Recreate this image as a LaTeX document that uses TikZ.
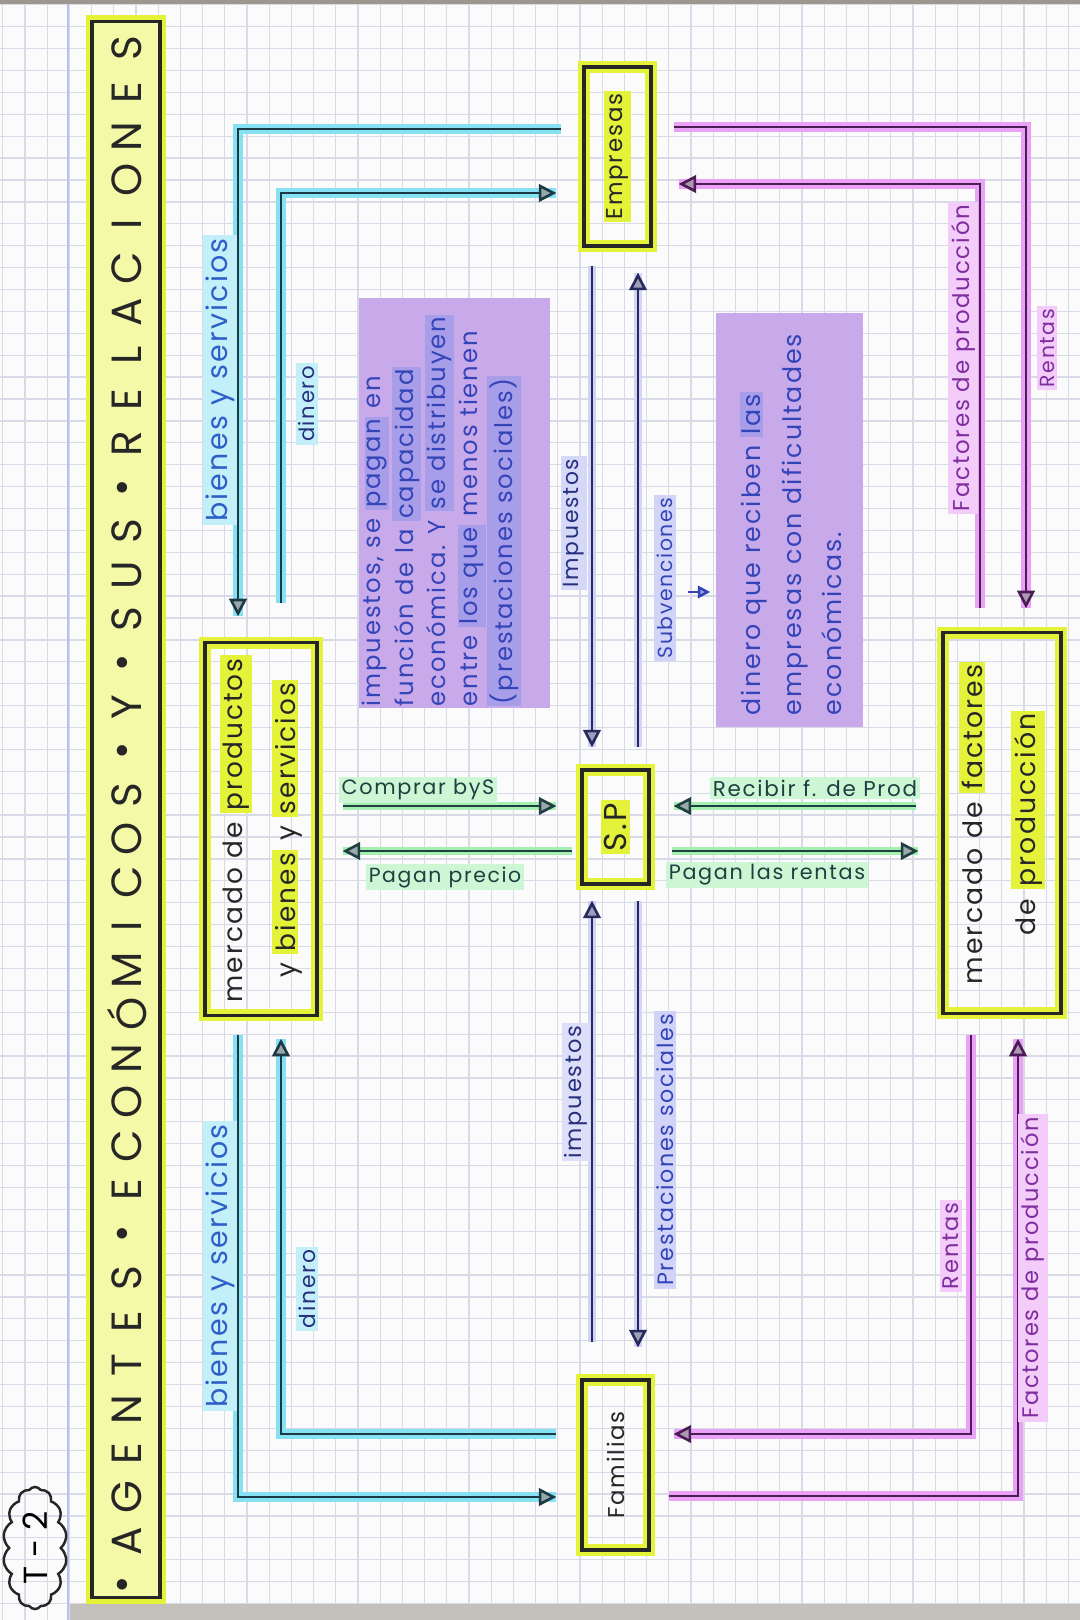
\documentclass[tikz,border=0pt]{standalone}
\usepackage{fontspec}
\setmainfont{Poppins}[LetterSpace=8.0]
\newfontfamily\titlefont{Poppins}
\usepackage{graphicx}
\usetikzlibrary{arrows.meta,shapes.symbols}

\definecolor{paper}{HTML}{FBFBFC}
\definecolor{gridcol}{HTML}{D9DAE7}
\definecolor{marginblue}{HTML}{B9C1EA}
\definecolor{edgegray}{HTML}{9C968F}
\definecolor{hlyellow}{HTML}{E4F23A}
\definecolor{hlcyan}{HTML}{86E2F2}
\definecolor{hlpink}{HTML}{E9A2F5}
\definecolor{hlgreen}{HTML}{A4F0B0}
\definecolor{hlblue}{HTML}{B4B8F2}
\definecolor{notefill}{HTML}{C8A9E9}
\definecolor{notehl}{HTML}{A79DE8}
\definecolor{tealline}{HTML}{1C3A45}
\definecolor{purpline}{HTML}{4B1C55}
\definecolor{navyline}{HTML}{262B5E}
\definecolor{inkcyan}{HTML}{2E5FC9}
\definecolor{inknavy}{HTML}{26307E}
\definecolor{inkblue}{HTML}{3344B8}
\definecolor{inkpurple}{HTML}{7E2C9E}
\definecolor{inkteal}{HTML}{1F3F42}

\newcommand\hly[1]{{\fboxsep=0.8pt\colorbox{hlyellow}{#1}}}
\newcommand\hln[1]{{\fboxsep=0.6pt\colorbox{notehl}{#1}}}

\begin{document}
\begin{tikzpicture}[x=0.01cm, y=-0.01cm,
    box node/.style = {draw=black!85, line width=0.9pt, preaction={draw=hlyellow, line width=3.5pt}, rectangle, inner sep=0pt, text=black!85},
    note node/.style = {fill=notefill, rectangle, inner sep=0pt},
    note text/.style = {text=inkblue, inner sep=0pt, anchor=south},
    label node/.style = {inner sep=0.8pt},
    title letter/.style = {inner sep=0pt, text=black!85, font=\titlefont\fontsize{12}{12}\selectfont},
    grid line/.style = {draw=gridcol, line width=0.35pt},
    teal arrow/.style = {draw=tealline, line width=0.75pt, preaction={draw=hlcyan, line width=2.6pt, -}, -{Triangle[length=5pt, width=5pt, fill=tealline!45]}},
    navy arrow/.style = {draw=navyline, line width=0.75pt, preaction={draw=hlblue!60, line width=2pt, -}, -{Triangle[length=5pt, width=5pt, fill=navyline!45]}},
    green arrow/.style = {draw=inkteal, line width=0.75pt, preaction={draw=hlgreen, line width=2.4pt, -}, -{Triangle[length=5pt, width=5pt, fill=inkteal!45]}},
    purple arrow/.style = {draw=purpline, line width=0.75pt, preaction={draw=hlpink, line width=2.6pt, -}, -{Triangle[length=5pt, width=5pt, fill=purpline!45]}}]
  \useasboundingbox (0,0) rectangle (1080,1620);
  \fill[paper] (0,0) rectangle (1080,1620);
  % cuadricula del cuaderno
  \foreach \gx in {2.8,25,...,1080}
    \draw[grid line] (\gx,0) -- (\gx,1620);
  \foreach \gy in {4.8,26.7,...,1620}
    \draw[grid line] (0,\gy) -- (1080,\gy);
  \draw[marginblue, line width=0.6pt] (68,0) -- (68,1620);
  \fill[edgegray] (0,0) rectangle (1080,4);
  \fill[edgegray!60] (70,1604) rectangle (1080,1620);

  % titulo
  \node at (126,809.5) [box node, fill=hlyellow!45, minimum width=0.68cm, minimum height=15.75cm] (titulo) {};
  \foreach \letra [count=\i] in {\textbullet,A,G,E,N,T,E,S,\textbullet,E,C,O,N,Ó,M,I,C,O,S,\textbullet,Y,\textbullet,S,U,S,\textbullet,R,E,L,A,C,I,O,N,E,S}
    \node at (127,{1585-43.9*(\i-1)}) [title letter] (letra\i) {\rotatebox{90}{\letra}};
  \node at (35,1548) [cloud, draw=black!85, line width=0.7pt, cloud puffs=14, cloud puff arc=110, cloud ignores aspect, minimum width=0.64cm, minimum height=1.22cm, inner sep=0pt, font=\titlefont\fontsize{9.5}{10}\selectfont] (tema) {\rotatebox{90}{T - 2}};

  % agentes y mercados
  \node at (617.5,156.5) [box node, minimum width=0.67cm, minimum height=1.79cm, font=\fontsize{6.5}{8}\selectfont] (empresas) {\rotatebox{90}{\hly{Empresas}}};
  \node at (615.5,827) [box node, minimum width=0.67cm, minimum height=1.14cm, font=\fontsize{9}{10}\selectfont] (sp) {\rotatebox{90}{\hly{S.P}}};
  \node at (615.5,1465) [box node, minimum width=0.67cm, minimum height=1.70cm, font=\fontsize{6.5}{8}\selectfont] (familias) {\rotatebox{90}{Familias}};
  \node at (261,829) [box node, minimum width=1.12cm, minimum height=3.72cm, font=\fontsize{7.5}{15}\selectfont] (mprod) {\rotatebox{90}{\parbox{3.5cm}{\centering mercado de \hly{productos}\\ y \hly{bienes} y \hly{servicios}}}};
  \node at (1002,823) [box node, minimum width=1.18cm, minimum height=3.80cm, font=\fontsize{7.6}{15}\selectfont] (mfact) {\rotatebox{90}{\parbox{3.6cm}{\centering mercado de \hly{factores}\\ de \hly{producción}}}};

  % notas
  \node at (454.5,503) [note node, minimum width=1.91cm, minimum height=4.10cm] (nota1) {};
  \node at (440,707) [note text, font=\fontsize{6.9}{9.2}\selectfont] (nota1txt) {\rotatebox{90}{\begin{tabular}{@{}l@{}}impuestos, se \hln{pagan} en\\ función de la \hln{capacidad}\\ económica. Y \hln{se distribuyen}\\ entre \hln{los que} menos tienen\\ \hln{(prestaciones sociales)}\end{tabular}}};
  \node at (789.5,520) [note node, minimum width=1.47cm, minimum height=4.14cm] (nota2) {};
  \node at (793,716) [note text, font=\fontsize{7.2}{11.6}\selectfont] (nota2txt) {\rotatebox{90}{\begin{tabular}{@{}l@{}}dinero que reciben \hln{las}\\ empresas con dificultades\\ económicas.\end{tabular}}};

  % flujos con el mercado de productos
  \coordinate (bs1) at (238,129);
  \coordinate (din1) at (281,193);
  \coordinate (bs2) at (238,1497);
  \coordinate (din2) at (281,1434);
  \draw [teal arrow, shorten <=0.21cm, shorten >=0.25cm] (empresas.west |- bs1) -| (mprod.north -| bs1);
  \draw [teal arrow, shorten <=0.38cm, shorten >=0.26cm] (mprod.north -| din1) |- (empresas.west |- din1);
  \draw [teal arrow, shorten <=0.18cm, shorten >=0.24cm] (mprod.south -| bs2) |- (familias.west |- bs2);
  \draw [teal arrow, shorten <=0.24cm, shorten >=0.22cm] (familias.west |- din2) -| (mprod.south -| din2);

  % flujos con el sector publico
  \coordinate (colImp) at (592,827);
  \coordinate (colSub) at (638,827);
  \coordinate (filaA) at (615,806);
  \coordinate (filaB) at (615,851);
  \draw [navy arrow, shorten <=0.18cm, shorten >=0.21cm] (empresas.south -| colImp) -- (sp.north -| colImp);
  \draw [navy arrow, shorten <=0.21cm, shorten >=0.25cm] (sp.north -| colSub) -- (empresas.south -| colSub);
  \draw [navy arrow, shorten <=0.36cm, shorten >=0.15cm] (familias.north -| colImp) -- (sp.south -| colImp);
  \draw [navy arrow, shorten <=0.15cm, shorten >=0.31cm] (sp.south -| colSub) -- (familias.north -| colSub);
  \draw [green arrow, shorten <=0.24cm, shorten >=0.24cm] (mprod.east |- filaA) -- (sp.west |- filaA);
  \draw [green arrow, shorten <=0.08cm, shorten >=0.24cm] (sp.west |- filaB) -- (mprod.east |- filaB);
  \draw [green arrow, shorten <=0.25cm, shorten >=0.23cm] (mfact.west |- filaA) -- (sp.east |- filaA);
  \draw [green arrow, shorten <=0.21cm, shorten >=0.23cm] (sp.east |- filaB) -- (mfact.west |- filaB);

  % flujos con el mercado de factores
  \coordinate (ren1) at (1026,127);
  \coordinate (fac1) at (980,184);
  \coordinate (ren2) at (971,1434);
  \coordinate (fac2) at (1018,1496);
  \draw [purple arrow, shorten <=0.21cm, shorten >=0.23cm] (empresas.east |- ren1) -| (mfact.north -| ren1);
  \draw [purple arrow, shorten <=0.23cm, shorten >=0.26cm] (mfact.north -| fac1) |- (empresas.east |- fac1);
  \draw [purple arrow, shorten <=0.20cm, shorten >=0.23cm] (mfact.south -| ren2) |- (familias.east |- ren2);
  \draw [purple arrow, shorten <=0.18cm, shorten >=0.24cm] (familias.east |- fac2) -| (mfact.south -| fac2);

  \coordinate (flecha) at (688,592);
  \draw [draw=inkblue, line width=0.7pt, shorten >=0.05cm, -{Triangle[length=3.5pt, width=3.5pt, fill=inkblue!50]}] (flecha) -- (nota2.west |- flecha);

  % etiquetas
  \node at (220,380) [label node, text=inkcyan, fill=hlcyan!50, font=\fontsize{8.1}{9}\selectfont] (lbienes1) {\rotatebox{90}{bienes y servicios}};
  \node at (307,404) [label node, text=inknavy, fill=hlcyan!50, font=\fontsize{6}{7}\selectfont] (ldinero1) {\rotatebox{90}{dinero}};
  \node at (220,1266) [label node, text=inkcyan, fill=hlcyan!50, font=\fontsize{8.1}{9}\selectfont] (lbienes2) {\rotatebox{90}{bienes y servicios}};
  \node at (307,1289) [label node, text=inknavy, fill=hlcyan!50, font=\fontsize{6.2}{7}\selectfont] (ldinero2) {\rotatebox{90}{dinero}};
  \node at (574,523) [label node, text=inknavy, fill=hlblue!55, font=\fontsize{6.2}{7}\selectfont] (limp1) {\rotatebox{90}{Impuestos}};
  \node at (665,578) [label node, text=inkblue, fill=hlblue!60, font=\fontsize{5.8}{7}\selectfont] (lsub) {\rotatebox{90}{Subvenciones}};
  \node at (576,1092) [label node, text=inknavy, fill=hlblue!45, font=\fontsize{6.4}{7}\selectfont] (limp2) {\rotatebox{90}{impuestos}};
  \node at (665,1150) [label node, text=inkblue, fill=hlblue!60, font=\fontsize{6.3}{7}\selectfont] (lpres) {\rotatebox{90}{Prestaciones sociales}};
  \node at (418,790) [label node, text=inkteal, fill=hlgreen!55, font=\fontsize{5.9}{7}\selectfont] (lcomprar) {Comprar byS};
  \node at (445,877) [label node, text=inkteal, fill=hlgreen!55, font=\fontsize{5.8}{7}\selectfont] (lprecio) {Pagan precio};
  \node at (815,788) [label node, text=inkteal, fill=hlgreen!55, font=\fontsize{6.1}{7}\selectfont] (lrecibir) {Recibir f. de Prod};
  \node at (767,875) [label node, text=inkteal, fill=hlgreen!55, font=\fontsize{5.9}{7}\selectfont] (lrentas) {Pagan las rentas};
  \node at (963,358) [label node, text=inkpurple, fill=hlpink!55, font=\fontsize{6.5}{7}\selectfont] (lfact1) {\rotatebox{90}{Factores de producción}};
  \node at (1047,348) [label node, text=inkpurple, fill=hlpink!55, font=\fontsize{5.8}{7}\selectfont] (lrent1) {\rotatebox{90}{Rentas}};
  \node at (951,1246) [label node, text=inkpurple, fill=hlpink!55, font=\fontsize{6.4}{7}\selectfont] (lrent2) {\rotatebox{90}{Rentas}};
  \node at (1033,1268) [label node, text=inkpurple, fill=hlpink!55, font=\fontsize{6.4}{7}\selectfont] (lfact2) {\rotatebox{90}{Factores de producción}};
\end{tikzpicture}
\end{document}
